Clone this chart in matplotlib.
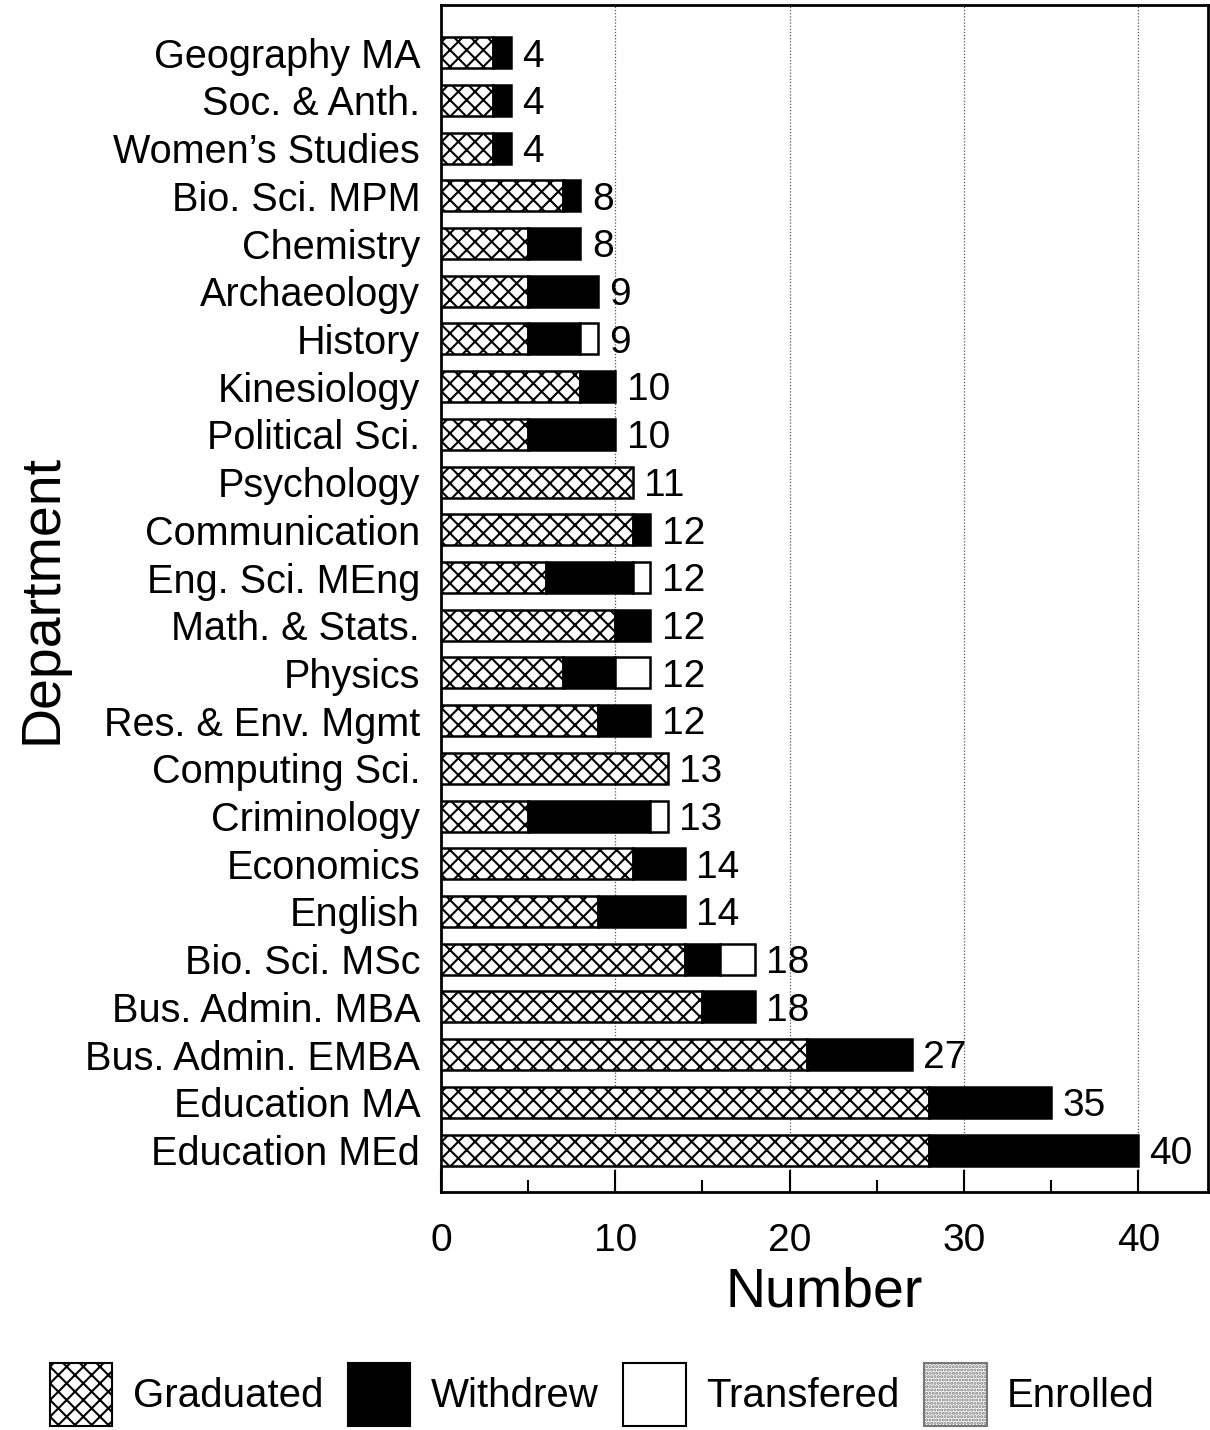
import matplotlib
matplotlib.use("Agg")
import matplotlib.pyplot as plt
from matplotlib.patches import Patch
from matplotlib.ticker import MultipleLocator
import numpy as np

departments = ["Geography MA", "Soc. & Anth.", "Women\u2019s Studies", "Bio. Sci. MPM",
               "Chemistry", "Archaeology", "History", "Kinesiology", "Political Sci.",
               "Psychology", "Communication", "Eng. Sci. MEng", "Math. & Stats.",
               "Physics", "Res. & Env. Mgmt", "Computing Sci.", "Criminology",
               "Economics", "English", "Bio. Sci. MSc", "Bus. Admin. MBA",
               "Bus. Admin. EMBA", "Education MA", "Education MEd"]
graduated = [3, 3, 3, 7, 5, 5, 5, 8, 5, 11, 11, 6, 10, 7, 9, 13, 5, 11, 9, 14, 15, 21, 28, 28]
withdrew  = [1, 1, 1, 1, 3, 4, 3, 2, 5, 0, 1, 5, 2, 3, 3, 0, 7, 3, 5, 2, 3, 6, 7, 12]
transfered = [0, 0, 0, 0, 0, 0, 1, 0, 0, 0, 0, 1, 0, 2, 0, 0, 1, 0, 0, 2, 0, 0, 0, 0]
enrolled  = [0] * 24
x_ticks = [0, 10, 20, 30, 40]

plt.rcParams['font.family'] = ['Liberation Sans', 'DejaVu Sans']
plt.rcParams['hatch.linewidth'] = 1.5

fig = plt.figure(figsize=(12.1, 14.3), dpi=100)
ax = fig.add_axes([441/1210, 1 - 1192/1430, (1208 - 441)/1210, (1192 - 5)/1430])

y = np.arange(len(departments))
g = np.array(graduated); w = np.array(withdrew); t = np.array(transfered); e = np.array(enrolled)
h = 0.65
series = [
    (g, np.zeros_like(g), dict(facecolor='white', hatch='xx')),
    (w, g, dict(facecolor='black')),
    (t, g + w, dict(facecolor='white')),
    (e, g + w + t, dict(facecolor='white', hatch='.....')),
]
for vals, left, style in series:
    m = vals > 0
    if m.any():
        ax.barh(y[m], vals[m], left=left[m], height=h, edgecolor='black',
                linewidth=1.8, zorder=3, **style)

totals = g + w + t + e
for yi, tot in zip(y, totals):
    ax.text(tot + 0.65, yi + 0.08, str(tot), va='center', ha='left', fontsize=28, zorder=4)

ax.set_xlim(0, 44)
ax.set_ylim(len(departments) - 0.12, -1.0)
ax.set_yticks(y)
ax.set_yticklabels(departments, fontsize=28.5)
ax.tick_params(axis='y', length=0, pad=15)
ax.set_xticks(x_ticks)
ax.xaxis.set_minor_locator(MultipleLocator(5))
ax.tick_params(axis='x', which='major', direction='in', length=16, width=1.5,
               labelsize=28, pad=22)
ax.tick_params(axis='x', which='minor', direction='in', length=9, width=1.5)
for v in x_ticks[1:]:
    ax.axvline(v, color='#555555', linestyle=(0, (1, 1.5)), linewidth=0.9, zorder=1)
for s in ax.spines.values():
    s.set_linewidth(2.0)

ax.set_xlabel("Number", fontsize=40, labelpad=6)
ax.set_ylabel("Department", fontsize=40, labelpad=12)

handles = [Patch(facecolor='white', edgecolor='black', hatch='xx', linewidth=1.5),
           Patch(facecolor='black', edgecolor='black', linewidth=1.5),
           Patch(facecolor='white', edgecolor='black', linewidth=1.5),
           Patch(facecolor='white', edgecolor='#777777', hatch='.....', linewidth=1.5)]
fig.legend(handles, ["Graduated", "Withdrew", "Transfered", "Enrolled"],
           loc='lower left', bbox_to_anchor=(50/1210, 4/1430), ncol=4, frameon=False,
           fontsize=29, handlelength=1.55, handleheight=2.03, handletextpad=0.5,
           columnspacing=0.62, borderpad=0, borderaxespad=0)

fig.savefig("out.png", dpi=100)
